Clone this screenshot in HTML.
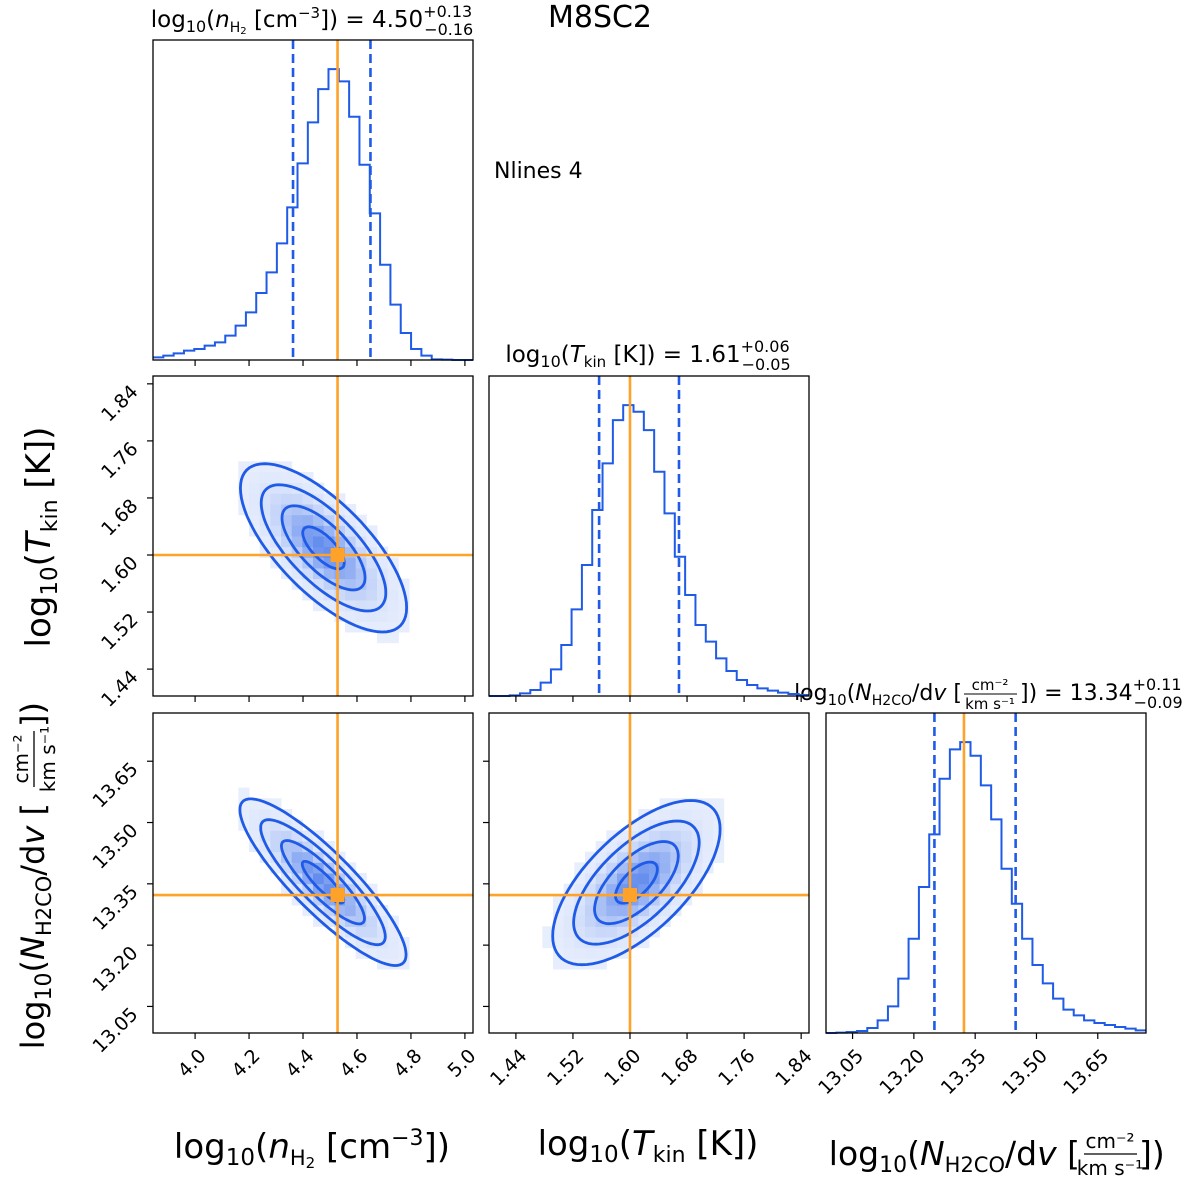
<!DOCTYPE html>
<html><head><meta charset="utf-8"><style>
html,body{margin:0;padding:0;background:#fff;}
svg{display:block;font-family:"DejaVu Sans","Liberation Sans",sans-serif;}
</style></head><body>
<svg id="fig" width="1200" height="1183" viewBox="0 0 1200 1183" xmlns="http://www.w3.org/2000/svg">
<text x="600" y="27" font-size="30" text-anchor="middle">M8SC2</text>
<text x="494" y="178" font-size="22">Nlines 4</text>
<text x="312" y="27" font-size="23" text-anchor="middle">log<tspan font-size="16" dy="5">10</tspan><tspan dy="-5">(</tspan><tspan font-style="italic">n</tspan><tspan font-size="14" dy="5">H</tspan><tspan font-size="10" dy="2">2</tspan><tspan dy="-7"> [cm</tspan><tspan font-size="15" dy="-9">−3</tspan><tspan dy="9">]) = 4.50</tspan><tspan font-size="16" dy="-10">+0.13</tspan><tspan font-size="16" dx="-48" dy="18">−0.16</tspan></text>
<text x="648" y="362" font-size="23" text-anchor="middle">log<tspan font-size="16" dy="5">10</tspan><tspan dy="-5">(</tspan><tspan font-style="italic">T</tspan><tspan font-size="15" dy="5">kin</tspan><tspan dy="-5"> [K]) = 1.61</tspan><tspan font-size="16" dy="-10">+0.06</tspan><tspan font-size="16" dx="-48" dy="18">−0.05</tspan></text>
<g font-size="22">
<text x="962" y="700" text-anchor="end">log<tspan font-size="15" dy="5">10</tspan><tspan dy="-5">(</tspan><tspan font-style="italic">N</tspan><tspan font-size="14" dy="5">H2CO</tspan><tspan dy="-5">/d</tspan><tspan font-style="italic">v</tspan> [</text>
<text x="990" y="690" font-size="15" text-anchor="middle">cm⁻²</text>
<line x1="964" x2="1017" y1="694" y2="694" stroke="#000" stroke-width="1"/>
<text x="990" y="709" font-size="15" text-anchor="middle">km s⁻¹</text>
<text x="1020" y="700">]) = 13.34<tspan font-size="16" dy="-10">+0.11</tspan><tspan font-size="16" dx="-48" dy="18">−0.09</tspan></text>
</g>
<text x="312" y="1158" font-size="34" text-anchor="middle">log<tspan font-size="23" dy="7">10</tspan><tspan dy="-7">(</tspan><tspan font-style="italic">n</tspan><tspan font-size="21" dy="7">H</tspan><tspan font-size="15" dy="3">2</tspan><tspan dy="-10"> [cm</tspan><tspan font-size="22" dy="-13">−3</tspan><tspan dy="13">])</tspan></text>
<text x="648" y="1155" font-size="34" text-anchor="middle">log<tspan font-size="23" dy="7">10</tspan><tspan dy="-7">(</tspan><tspan font-style="italic">T</tspan><tspan font-size="22" dy="7">kin</tspan><tspan dy="-7"> [K])</tspan></text>
<g font-size="33">
<text x="1080" y="1165" text-anchor="end">log<tspan font-size="22" dy="7">10</tspan><tspan dy="-7">(</tspan><tspan font-style="italic">N</tspan><tspan font-size="21" dy="7">H2CO</tspan><tspan dy="-7">/d</tspan><tspan font-style="italic">v</tspan> [</text>
<text x="1110" y="1148" font-size="20" text-anchor="middle">cm⁻²</text>
<line x1="1084" x2="1137" y1="1154" y2="1154" stroke="#000" stroke-width="1.3"/>
<text x="1110" y="1175" font-size="20" text-anchor="middle">km s⁻¹</text>
<text x="1139" y="1165">])</text>
</g>
<text transform="translate(50,537) rotate(-90)" font-size="34" text-anchor="middle">log<tspan font-size="23" dy="7">10</tspan><tspan dy="-7">(</tspan><tspan font-style="italic">T</tspan><tspan font-size="22" dy="7">kin</tspan><tspan dy="-7"> [K])</tspan></text>
<g transform="translate(44,875) rotate(-90)" font-size="32">
<text x="72" y="0" text-anchor="end">log<tspan font-size="22" dy="7">10</tspan><tspan dy="-7">(</tspan><tspan font-style="italic">N</tspan><tspan font-size="21" dy="7">H2CO</tspan><tspan dy="-7">/d</tspan><tspan font-style="italic">v</tspan> [</text>
<text x="116" y="-16" font-size="20" text-anchor="middle">cm⁻²</text>
<line x1="88" x2="144" y1="-10" y2="-10" stroke="#000" stroke-width="1.3"/>
<text x="116" y="11" font-size="20" text-anchor="middle">km s⁻¹</text>
<text x="148" y="0">])</text>
</g>
<g id="plots"></g>
</svg>
<script>
// ---- data ----
const histNH2 = [8,13,20,28,33,43,53,73,103,143,201,263,350,458,590,713,813,873,836,730,586,440,286,166,81,33,13,2,1,0,0];
const histTkin = [0,0,2,8,18,40,80,153,260,393,558,698,828,873,853,798,673,548,418,303,213,163,113,75,48,33,23,16,10,6,3];
const histNH2CO = [0,1,3,6,15,38,80,163,283,438,596,763,851,873,832,743,641,493,388,283,204,149,103,70,53,38,30,24,18,13,8];
const rangeNH2 = [3.844, 5.03];
const rangeTkin = [1.4023, 1.851];
const rangeNH2CO = [12.985, 13.768];
const truthValues = [4.528, 1.600, 13.3226];
const quantLow = [4.363, 1.5567, 13.2503];
const quantHigh = [4.65, 1.6687, 13.449];
const ticksNH2 = ["4.0","4.2","4.4","4.6","4.8","5.0"];
const ticksTkin = ["1.44","1.52","1.60","1.68","1.76","1.84"];
const ticksNH2CO = ["13.05","13.20","13.35","13.50","13.65"];
// 2D gaussian summaries: [xIndex, yIndex, meanX, meanY, sdX, sdY, rho]
const pair_n_T = [0, 1, 4.476, 1.610, 0.154, 0.059, -0.71];
const pair_n_N = [0, 2, 4.474, 13.354, 0.154, 0.102, -0.87];
const pair_T_N = [1, 2, 1.609, 13.353, 0.0587, 0.1005, 0.65];
const contourLevels = [0.5, 1.0, 1.5, 2.0];

// ---- layout ----
const colX = [153, 489, 826], rowY = [40, 376, 713], W = 320, H = 320;
const ranges = [rangeNH2, rangeTkin, rangeNH2CO];
const hists = [histNH2, histTkin, histNH2CO];
const tickSets = [ticksNH2, ticksTkin, ticksNH2CO];
const BLUE = "#1f5be6", ORANGE = "#ffa229";
const NS = "http://www.w3.org/2000/svg";
const root = document.getElementById("plots");
function mk(tag, attrs, parent) {
  const e = document.createElementNS(NS, tag);
  for (const k in attrs) e.setAttribute(k, attrs[k]);
  (parent || root).appendChild(e);
  return e;
}
function sx(i, v) { const r = ranges[i]; return colX[i] + (v - r[0]) / (r[1] - r[0]) * W; }
function sy(j, v) { const r = ranges[j]; return rowY[j] + H - (v - r[0]) / (r[1] - r[0]) * H; }

function xTicks(i, row, labels) {
  const g = mk("g", {});
  
  
  const yb = rowY[row] + H;
  tickSets[i].forEach(t => {
    const x = sx(i, parseFloat(t));
    mk("line", {x1: x, x2: x, y1: yb, y2: yb + 6, stroke: "#000", "stroke-width": 1.2}, g);
    if (labels) {
      const tx = mk("text", {x: x + 12, y: yb + 24, "font-size": 19, "text-anchor": "end", transform: `rotate(-45 ${x + 12} ${yb + 24})`}, g);
      
      
      tx.textContent = t;
    }
  });
}
function yTicks(col, j, labels) {
  const g = mk("g", {});
  
  
  const xl = colX[col];
  tickSets[j].forEach(t => {
    const y = sy(j, parseFloat(t));
    mk("line", {x1: xl - 6, x2: xl, y1: y, y2: y, stroke: "#000", "stroke-width": 1.2}, g);
    if (labels) {
      const tx = mk("text", {x: xl - 14, y: y + 9, "font-size": 19, "text-anchor": "end", transform: `rotate(-45 ${xl - 14} ${y + 9})`}, g);
      
      
      tx.textContent = t;
    }
  });
}
function frame(col, row, name) {
  const r = mk("rect", {x: colX[col], y: rowY[row], width: W, height: H, fill: "none", stroke: "#000", "stroke-width": 1.3});
  
  
}

// ---- histograms ----
const histNames = ["hist-nh2", "hist-tkin", "hist-nh2co"];
for (let i = 0; i < 3; i++) {
  const g = mk("g", {});
  
  
  const h = hists[i], n = h.length, r = ranges[i];
  const mx = Math.max(...h) * 1.1;
  const yb = rowY[i] + H;
  let d = "";
  for (let k = 0; k < n; k++) {
    const x0 = sx(i, r[0] + (r[1] - r[0]) * k / n), x1 = sx(i, r[0] + (r[1] - r[0]) * (k + 1) / n);
    const y = yb - h[k] / mx * H;
    d += (k === 0 ? `M${x0},${y}` : `L${x0},${y}`) + `L${x1},${y}`;
  }
  const p = mk("path", {d: d, fill: "none", stroke: BLUE, "stroke-width": 2}, g);
  
  
  [quantLow[i], quantHigh[i]].forEach(q => {
    const l = mk("line", {x1: sx(i, q), x2: sx(i, q), y1: rowY[i], y2: yb, stroke: BLUE, "stroke-width": 2.6, "stroke-dasharray": "9,5"}, g);
    
    
  });
  const tl = mk("line", {x1: sx(i, truthValues[i]), x2: sx(i, truthValues[i]), y1: rowY[i], y2: yb, stroke: ORANGE, "stroke-width": 2.6}, g);
  
  
  frame(i, i, histNames[i] + "-frame");
  xTicks(i, i, i === 2);
}

// ---- 2D panels ----
function blueMix(t) {
  const c = [31, 91, 230];
  return `rgb(${Math.round(255 + (c[0] - 255) * t)},${Math.round(255 + (c[1] - 255) * t)},${Math.round(255 + (c[2] - 255) * t)})`;
}
[pair_n_T, pair_n_N, pair_T_N].forEach((pp, idx) => {
  const [i, j, mxv, myv, sdx, sdy, rho] = pp;
  const g = mk("g", {});
  
  
  const nb = 30, ri = ranges[i], rj = ranges[j];
  for (let a = 0; a < nb; a++) for (let b = 0; b < nb; b++) {
    const vx = ri[0] + (ri[1] - ri[0]) * (a + 0.5) / nb, vy = rj[0] + (rj[1] - rj[0]) * (b + 0.5) / nb;
    const u = (vx - mxv) / sdx, v = (vy - myv) / sdy;
    const m2 = (u * u - 2 * rho * u * v + v * v) / (1 - rho * rho);
    const dens = Math.exp(-0.5 * m2);
    if (dens < 0.1) continue;
    const x0 = sx(i, ri[0] + (ri[1] - ri[0]) * a / nb), x1 = sx(i, ri[0] + (ri[1] - ri[0]) * (a + 1) / nb);
    const y0 = sy(j, rj[0] + (rj[1] - rj[0]) * (b + 1) / nb), y1 = sy(j, rj[0] + (rj[1] - rj[0]) * b / nb);
    const c = mk("rect", {x: x0, y: y0, width: x1 - x0 + 0.5, height: y1 - y0 + 0.5, fill: blueMix(0.1 + 0.6 * dens * dens)}, g);
    
    
  }
  contourLevels.forEach(lv => {
    let d = "";
    for (let s = 0; s <= 80; s++) {
      const th = s / 80 * 2 * Math.PI;
      const vx = mxv + lv * sdx * Math.cos(th);
      const vy = myv + lv * sdy * (rho * Math.cos(th) + Math.sqrt(1 - rho * rho) * Math.sin(th));
      d += (s === 0 ? "M" : "L") + sx(i, vx).toFixed(1) + "," + sy(j, vy).toFixed(1);
    }
    const p = mk("path", {d: d + "Z", fill: "none", stroke: BLUE, "stroke-width": 2.8}, g);
    
    
  });
  const tx = sx(i, truthValues[i]), ty = sy(j, truthValues[j]);
  const vl = mk("line", {x1: tx, x2: tx, y1: rowY[j], y2: rowY[j] + H, stroke: ORANGE, "stroke-width": 2.6}, g);
  
  
  const hl = mk("line", {x1: colX[i], x2: colX[i] + W, y1: ty, y2: ty, stroke: ORANGE, "stroke-width": 2.6}, g);
  
  
  const sq = mk("rect", {x: tx - 7, y: ty - 7, width: 14, height: 14, fill: ORANGE}, g);
  
  
  frame(i, j, "panel-frame");
  xTicks(i, j, j === 2);
  yTicks(i, j, i === 0);
});
</script>
</body></html>
